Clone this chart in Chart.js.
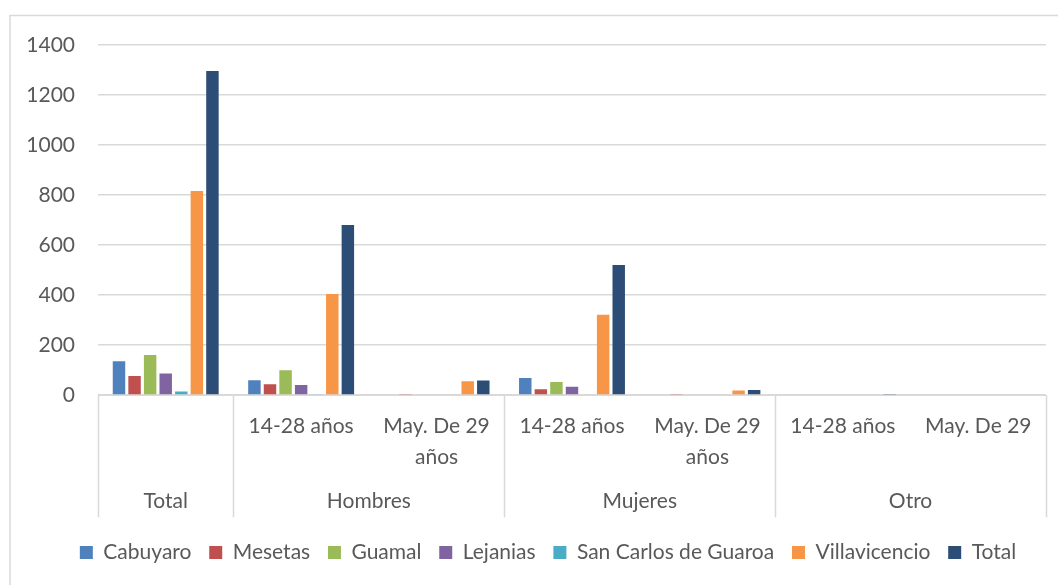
<!DOCTYPE html>
<html>
<head>
<meta charset="utf-8">
<script src="https://cdn.jsdelivr.net/npm/chart.js@4.4.0/dist/chart.umd.min.js"></script>
<style>
  html, body { margin: 0; padding: 0; background: #ffffff; }
  #wrap { width: 1058px; height: 585px; position: relative; }
</style>
</head>
<body>
<div id="wrap"><canvas id="c" width="1058" height="585"></canvas></div>
<script>
// ---- data ----
const groups = ['Total', 'Hombres', 'Mujeres', 'Otro'];
const groupSpans = [1, 2, 2, 2];
const subLabels = ['', '14-28 años', ['May. De 29', 'años'], '14-28 años', ['May. De 29', 'años'], '14-28 años', ['May. De 29']];
const seriesNames = ['Cabuyaro', 'Mesetas', 'Guamal', 'Lejanias', 'San Carlos de Guaroa', 'Villavicencio', 'Total'];
const cabuyaro      = [136, 60, 0, 69, 0, 0, 0];
const mesetas       = [77, 44, 1, 24, 1, 0, 0];
const guamal        = [161, 100, 0, 53, 0, 0, 0];
const lejanias      = [87, 41, 0, 34, 0, 0, 0];
const sanCarlos     = [15, 4, 0, 3, 0, 0, 0];
const villavicencio = [816, 405, 56, 322, 19, 0, 0];
const totalSeries   = [1296, 680, 59, 521, 21, 1, 0];
const yTicks = [0, 200, 400, 600, 800, 1000, 1200, 1400];

const colors = ['#4F81BD', '#C0504D', '#9BBB59', '#8064A2', '#4BACC6', '#F79646', '#2C4D75'];
const seriesValues = [cabuyaro, mesetas, guamal, lejanias, sanCarlos, villavicencio, totalSeries];

const FONT = 'Lato';
const TXT = '#595959';
const LINE = '#d9d9d9';

const categoryLabels = subLabels.map((l, i) => (Array.isArray(l) ? l.join(' ') : l) + ' #' + i);

const multiAxis = {
  id: 'multiAxis',
  beforeDraw(chart) {
    const ctx = chart.ctx;
    ctx.save();
    ctx.fillStyle = '#ffffff';
    ctx.fillRect(0, 0, chart.width, chart.height);
    ctx.strokeStyle = LINE;
    ctx.lineWidth = 1.5;
    ctx.strokeRect(10, 15.5, 1100, 620);
    ctx.restore();
  },
  afterDraw(chart) {
    const ctx = chart.ctx;
    const x = chart.scales.x;
    const y = chart.scales.y;
    const area = chart.chartArea;
    const n = subLabels.length;
    const w = (area.right - area.left) / n;
    const base = area.bottom;
    ctx.save();
    // y tick labels
    ctx.fillStyle = TXT;
    ctx.font = '21px ' + FONT;
    ctx.textAlign = 'right';
    ctx.textBaseline = 'middle';
    yTicks.forEach(v => ctx.fillText(String(v), 75, y.getPixelForValue(v)));
    // axis line
    ctx.strokeStyle = LINE;
    ctx.lineWidth = 1.5;
    ctx.beginPath();
    ctx.moveTo(area.left, base);
    ctx.lineTo(area.right, base);
    ctx.stroke();
    // group separators
    let idx = 0;
    const bounds = [area.left];
    groupSpans.forEach(s => { idx += s; bounds.push(area.left + idx * w); });
    ctx.beginPath();
    bounds.forEach(b => { ctx.moveTo(Math.round(b) + 0.5, base); ctx.lineTo(Math.round(b) + 0.5, base + 122); });
    ctx.stroke();
    // sub labels
    ctx.textAlign = 'center';
    subLabels.forEach((l, i) => {
      const cx = x.getPixelForValue(i);
      const lines = Array.isArray(l) ? l : [l];
      lines.forEach((t, j) => ctx.fillText(t, cx, base + 31 + j * 31));
    });
    // group labels
    idx = 0;
    groups.forEach((g, gi) => {
      const cx = area.left + (idx + groupSpans[gi] / 2) * w;
      ctx.fillText(g, cx, base + 106);
      idx += groupSpans[gi];
    });
    ctx.restore();
  }
};

new Chart(document.getElementById('c'), {
  type: 'bar',
  data: {
    labels: categoryLabels,
    datasets: seriesNames.map((name, i) => ({
      label: name,
      data: seriesValues[i],
      backgroundColor: colors[i],
      borderWidth: 0,
      categoryPercentage: 0.805,
      barPercentage: 0.8
    }))
  },
  options: {
    responsive: false,
    animation: false,
    devicePixelRatio: 1,
    layout: { padding: { left: 50, right: 12, top: 45, bottom: 12 } },
    plugins: {
      legend: {
        position: 'bottom',
        labels: {
          boxWidth: 13,
          boxHeight: 13,
          padding: 17.8,
          color: TXT,
          font: { family: FONT, size: 21 }
        }
      },
      tooltip: { enabled: false }
    },
    scales: {
      x: {
        grid: { display: false },
        border: { display: false },
        ticks: { display: false },
        afterFit(scale) { scale.height = 129; }
      },
      y: {
        min: 0,
        max: 1400,
        afterBuildTicks(scale) { scale.ticks = yTicks.map(v => ({ value: v })); },
        afterFit(scale) { scale.width = 48; },
        grid: { color: LINE, lineWidth: 1.5, drawTicks: false },
        border: { display: false },
        ticks: { display: false }
      }
    }
  },
  plugins: [multiAxis]
});
</script>
</body>
</html>
